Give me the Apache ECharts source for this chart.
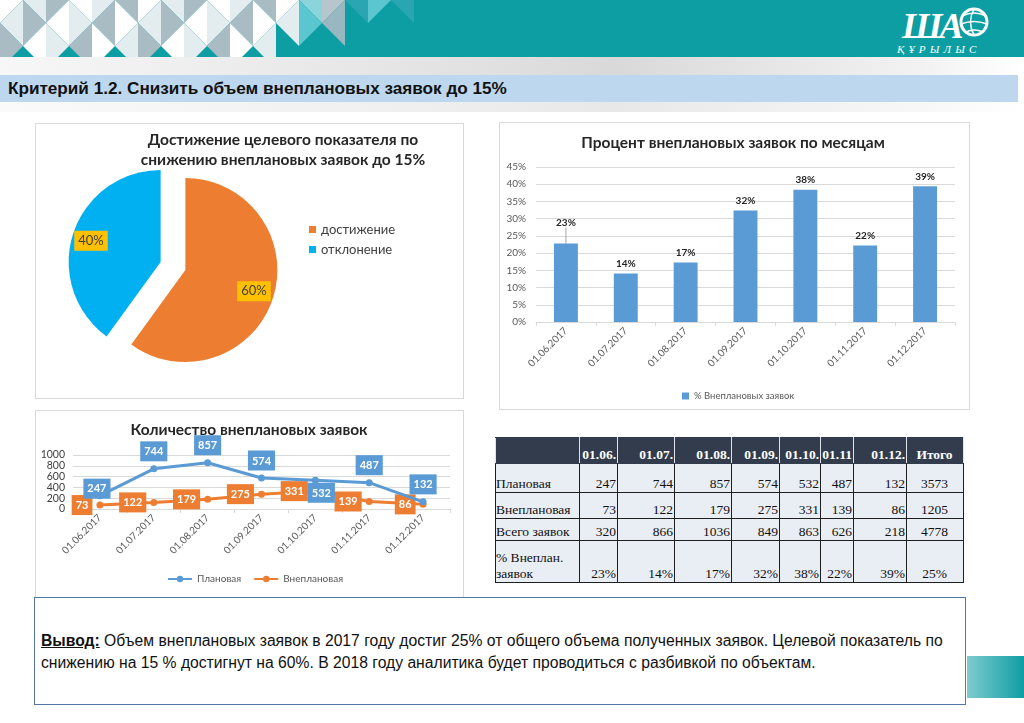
<!DOCTYPE html>
<html><head><meta charset="utf-8">
<script src="https://cdn.jsdelivr.net/npm/echarts@6/dist/echarts.min.js"></script>
<style>
html,body{margin:0;padding:0;width:1024px;height:723px;overflow:hidden;background:#fff;position:relative}
#hdr{position:absolute;left:0;top:0}
.shadow{position:absolute;left:0;width:1024px;background:linear-gradient(to right,#f7f7f7 0%,#e2e2e2 45%,#d9d9d9 60%,#f2f2f2 90%,#ffffff 100%)}
#titlebar{position:absolute;left:0;top:75px;width:1018px;height:27px;background:#bdd7ee;font-family:"Liberation Sans",Arial,sans-serif;font-weight:bold;font-size:16px;line-height:28px;padding-left:8px;box-sizing:border-box;color:#111;white-space:nowrap}
.sq{display:inline-block;transform-origin:0 50%;white-space:nowrap}
.frame{position:absolute;border:1px solid #d9d9d9;box-sizing:border-box;background:#fff}
#tbl{position:absolute;left:495px;top:437px;width:468px;table-layout:fixed;border-collapse:collapse;font-family:"Liberation Serif","Times New Roman",serif;font-size:13.5px;color:#111}
#tbl td{background:#e9edf4;border:1.5px solid #1f1f1f;padding:0 1px 0 0;vertical-align:bottom;text-align:right;line-height:16px;white-space:nowrap;overflow:visible}
#tbl tr.h td{background:#323c4c;color:#fff;font-weight:bold;border-color:#323c4c #dfe3ea #323c4c #dfe3ea}
#tbl td.c{text-align:center}
#tbl td.l{text-align:left}
#concl{position:absolute;left:34px;top:597px;width:932px;height:108px;border:1.5px solid #5475a8;box-sizing:border-box;background:#fff;font-family:"Liberation Sans",Arial,sans-serif;font-size:16px;line-height:22px;color:#111;padding:32px 0 0 6px}
#deco{position:absolute;left:967px;top:656px;width:57px;height:42px;background:linear-gradient(to right,#7fcccf,#0d9ea3)}
#chart{position:absolute;left:0;top:0;width:1024px;height:723px}
</style></head><body>
<svg id="hdr" width="1024" height="57"></svg>
<div class="shadow" style="top:57px;height:18px"></div>
<div id="titlebar"><span class="sq" id="tt">Критерий 1.2. Снизить объем внеплановых заявок до 15%</span></div>
<div class="shadow" style="top:102px;height:10px;opacity:0.6"></div>
<div class="frame" style="left:35px;top:123px;width:429px;height:276px"></div>
<div class="frame" style="left:499px;top:122px;width:471px;height:288px"></div>
<div class="frame" style="left:35px;top:410px;width:429px;height:188px"></div>
<table id="tbl"></table>
<div id="concl"><div><span class="sq" id="c1"><b><u>Вывод:</u></b> Объем внеплановых заявок в 2017 году достиг 25% от общего объема полученных заявок. Целевой показатель по</span></div><div><span class="sq" id="c2">снижению на 15 % достигнут на 60%. В 2018 году аналитика будет проводиться с разбивкой по объектам.</span></div></div>
<div id="deco"></div>
<div id="chart"></div>
<script>
// ---------- data ----------
const months = ['01.06.2017','01.07.2017','01.08.2017','01.09.2017','01.10.2017','01.11.2017','01.12.2017'];
const pieNames = ['достижение','отклонение'];
const pieValues = [60, 40];
const pctUnplanned = [22.8, 14.1, 17.3, 32.4, 38.4, 22.2, 39.4];
const planned = [247, 744, 857, 574, 532, 487, 132];
const unplanned = [73, 122, 179, 275, 331, 139, 86];
const tableHead = ['', '01.06.', '01.07.', '01.08.', '01.09.', '01.10.', '01.11', '01.12.', 'Итого'];
const rowPlanned = ['Плановая', '247', '744', '857', '574', '532', '487', '132', '3573'];
const rowUnplanned = ['Внеплановая', '73', '122', '179', '275', '331', '139', '86', '1205'];
const rowTotal = ['Всего заявок', '320', '866', '1036', '849', '863', '626', '218', '4778'];
const rowPct = ['% Внеплан.<br>заявок', '23%', '14%', '17%', '32%', '38%', '22%', '39%', '25%'];

// ---------- text fitting (narrow fonts are not installed) ----------
(function(){
  const tt = document.getElementById('tt');
  tt.style.transform = 'scaleX(' + (499 / tt.offsetWidth) + ')';
  const c1 = document.getElementById('c1'), c2 = document.getElementById('c2');
  const k = 902 / c1.offsetWidth;
  c1.style.transform = 'scaleX(' + k + ')';
  c2.style.transform = 'scaleX(' + k + ')';
})();

// ---------- header ----------
(function(){
  const pal = ['#5cc6d0','#a9bcc3','#ffffff','#3c8a9b','#8ad5dc','#e3ecef','#2aa6b2','#98b7c0','#cddcdf','#ffffff','#4bb8c6','#b7c6cc'];
  let s = '<rect x="0" y="0" width="1024" height="57" fill="#0c9ea3"/>';
  const cw = 23, ph = 46;
  let n = 0;
  for (let c = 0; c < 20; c++) {
    const x0 = c * cw, x1 = x0 + cw;
    const offL = (c % 2) ? 0 : ph / 2, offR = (c % 2) ? ph / 2 : 0;
    const pts = [];
    for (let k = -2; k < 4; k++) { pts.push([x0, k * ph + offL]); pts.push([x1, k * ph + offR]); }
    pts.sort((a, b) => a[1] - b[1]);
    for (let i = 0; i + 2 < pts.length; i++) {
      const t = [pts[i], pts[i+1], pts[i+2]];
      const cy = (t[0][1] + t[1][1] + t[2][1]) / 3, cx = (t[0][0] + t[1][0] + t[2][0]) / 3;
      if (cy < -10 || cy > 67) continue;
      const lim = 410 - Math.max(0, Math.min(57, cy)) / 57 * 175;
      if (cx > lim) continue;
      const col = pal[(c * 5 + i * 7 + n) % pal.length];
      n++;
      s += '<polygon points="' + t.map(p => p.join(',')).join(' ') + '" fill="' + col + '"/>';
    }
  }
  s += '<g fill="#fff"><text x="902" y="38" font-family="Liberation Serif,serif" font-style="italic" font-weight="bold" font-size="36" letter-spacing="-3">ША</text>' +
       '<circle cx="974" cy="22" r="13" fill="none" stroke="#fff" stroke-width="3"/>' +
       '<path d="M962,16 Q974,10 986,16 M961,24 Q974,19 987,24 M966,32 Q974,28 983,32 M974,9 Q967,22 974,35" fill="none" stroke="#fff" stroke-width="1.5"/>' +
       '<text x="897" y="53" font-family="Liberation Serif,serif" font-style="italic" font-size="11" letter-spacing="4.2">ҚҰРЫЛЫС</text></g>';
  document.getElementById('hdr').innerHTML = s;
})();

// ---------- table ----------
(function(){
  const widths = [84, 38, 57, 57, 48, 41, 33, 53, 57];
  const heights = [26, 29, 26, 22, 42];
  const rows = [tableHead, rowPlanned, rowUnplanned, rowTotal, rowPct];
  let h = '<colgroup>' + widths.map(w => '<col style="width:' + w + 'px">').join('') + '</colgroup>';
  rows.forEach((r, ri) => {
    h += '<tr' + (ri === 0 ? ' class="h"' : '') + ' style="height:' + heights[ri] + 'px">';
    r.forEach((v, ci) => {
      const cls = ci === 0 ? 'l' : (ci === 8 ? 'c' : '');
      h += '<td class="' + cls + '">' + v + '</td>';
    });
    h += '</tr>';
  });
  document.getElementById('tbl').innerHTML = h;
})();

// ---------- charts ----------
const F = 'Lato, "Liberation Sans", sans-serif';
const titleStyle = {fontFamily: F, fontSize: 15.5, fontWeight: 'bold', color: '#262626', lineHeight: 20};
const pieColors = ['#ed7d31', '#00b0f0'];
const blue = '#5b9bd5', orange = '#ed7d31';
const planLabelPos = [
  {position: 'inside', offset: [-3, -7]},
  {position: 'top'}, {position: 'top'}, {position: 'top'},
  {position: 'bottom', offset: [6, -5]},
  {position: 'top'}, {position: 'top'}
];
const axisLabelStyle = {fontFamily: F, fontSize: 10, color: '#595959'};

const chart = echarts.init(document.getElementById('chart'));
chart.setOption({
  animation: false,
  backgroundColor: 'transparent',
  title: [
    {text: 'Достижение целевого показателя по\nснижению внеплановых заявок до 15%', left: 283, top: 130, padding: 0, textAlign: 'center', textStyle: titleStyle},
    {text: 'Процент внеплановых заявок по месяцам', left: 733, top: 133, padding: 0, textAlign: 'center', textStyle: titleStyle},
    {text: 'Количество внеплановых заявок', left: 249, top: 420, padding: 0, textAlign: 'center', textStyle: titleStyle}
  ],
  legend: [
    {data: pieNames, orient: 'vertical', left: 304, top: 218, icon: 'rect', itemWidth: 7, itemHeight: 7, itemGap: 7,
     textStyle: {fontFamily: F, fontSize: 13, color: '#404040'}},
    {data: ['% Внеплановых заявок'], left: 677, top: 386, icon: 'rect', itemWidth: 7, itemHeight: 7,
     textStyle: {fontFamily: F, fontSize: 9.5, color: '#595959'}},
    {data: ['Плановая', 'Внеплановая'], left: 162, top: 569, itemWidth: 24, itemHeight: 8, itemGap: 12,
     textStyle: {fontFamily: F, fontSize: 10, color: '#595959'}}
  ],
  grid: [
    {left: 536, top: 167, width: 419, height: 155, outerBoundsMode: 'none'},
    {left: 73, top: 455, width: 377, height: 54, outerBoundsMode: 'none'}
  ],
  xAxis: [
    {type: 'category', gridIndex: 0, data: months,
     axisLine: {lineStyle: {color: '#d9d9d9'}}, axisTick: {show: true, length: 4, lineStyle: {color: '#d9d9d9'}},
     axisLabel: Object.assign({rotate: 45, margin: 7, interval: 0}, axisLabelStyle)},
    {type: 'category', gridIndex: 1, data: months,
     axisLine: {lineStyle: {color: '#d9d9d9'}}, axisTick: {show: true, length: 4, lineStyle: {color: '#d9d9d9'}},
     axisLabel: Object.assign({rotate: 45, margin: 7, interval: 0}, axisLabelStyle)}
  ],
  yAxis: [
    {type: 'value', gridIndex: 0, min: 0, max: 45, interval: 5,
     axisLabel: Object.assign({formatter: '{value}%', margin: 10}, axisLabelStyle),
     splitLine: {lineStyle: {color: '#d9d9d9'}}, axisLine: {show: false}, axisTick: {show: false}},
    {type: 'value', gridIndex: 1, min: 0, max: 1000, interval: 200,
     axisLabel: Object.assign({margin: 8, formatter: v => String(v)}, axisLabelStyle, {fontSize: 10.5, color: '#404040'}),
     splitLine: {lineStyle: {color: '#d9d9d9'}}, axisLine: {show: false}, axisTick: {show: false}}
  ],
  series: [
    {type: 'pie', center: [173, 266], radius: 92, startAngle: 90, clockwise: true,
     selectedMode: 'multiple', selectedOffset: 13, emphasis: {disabled: true},
     data: pieNames.map((nm, i) => ({name: nm, value: pieValues[i], selected: true, itemStyle: {color: pieColors[i]}})),
     label: {show: true, position: 'inside', formatter: '{d}%', backgroundColor: '#ffc000', color: '#404040',
             fontFamily: F, fontSize: 13, padding: [4, 4, 3, 4]},
     labelLayout: p => p.dataIndex === 0 ? {dx: 22, dy: 6} : {dx: -23, dy: -6},
     labelLine: {show: false}},
    {type: 'bar', name: '% Внеплановых заявок', xAxisIndex: 0, yAxisIndex: 0, barWidth: '40%',
     data: pctUnplanned.map((v, i) => i === 0 ? {value: v, labelLine: {show: true, lineStyle: {color: '#a6a6a6', width: 1}}} : v),
     itemStyle: {color: blue},
     label: {show: true, position: 'top', distance: 5, formatter: p => Math.round(p.value) + '%',
             fontFamily: F, fontWeight: 'bold', fontSize: 10, color: '#262626'},
     labelLayout: p => p.dataIndex === 0 ? {dy: -11} : {},
     emphasis: {disabled: true}},
    {type: 'line', name: 'Плановая', xAxisIndex: 1, yAxisIndex: 1, z: 3,
     data: planned.map((v, i) => ({value: v, label: planLabelPos[i]})),
     symbol: 'circle', symbolSize: 7, lineStyle: {width: 3, color: blue}, itemStyle: {color: blue},
     label: {show: true, distance: 4, backgroundColor: blue, color: '#fff', fontFamily: F, fontWeight: 'bold', fontSize: 11, padding: [5, 4, 4, 4]},
     emphasis: {disabled: true}},
    {type: 'line', name: 'Внеплановая', xAxisIndex: 1, yAxisIndex: 1, z: 2,
     data: unplanned,
     symbol: 'circle', symbolSize: 7, lineStyle: {width: 3, color: orange}, itemStyle: {color: orange},
     label: {show: true, position: 'left', distance: 4, backgroundColor: orange, color: '#fff', fontFamily: F, fontWeight: 'bold', fontSize: 11, padding: [5, 4, 4, 4]},
     emphasis: {disabled: true}}
  ]
});
</script>
</body></html>
